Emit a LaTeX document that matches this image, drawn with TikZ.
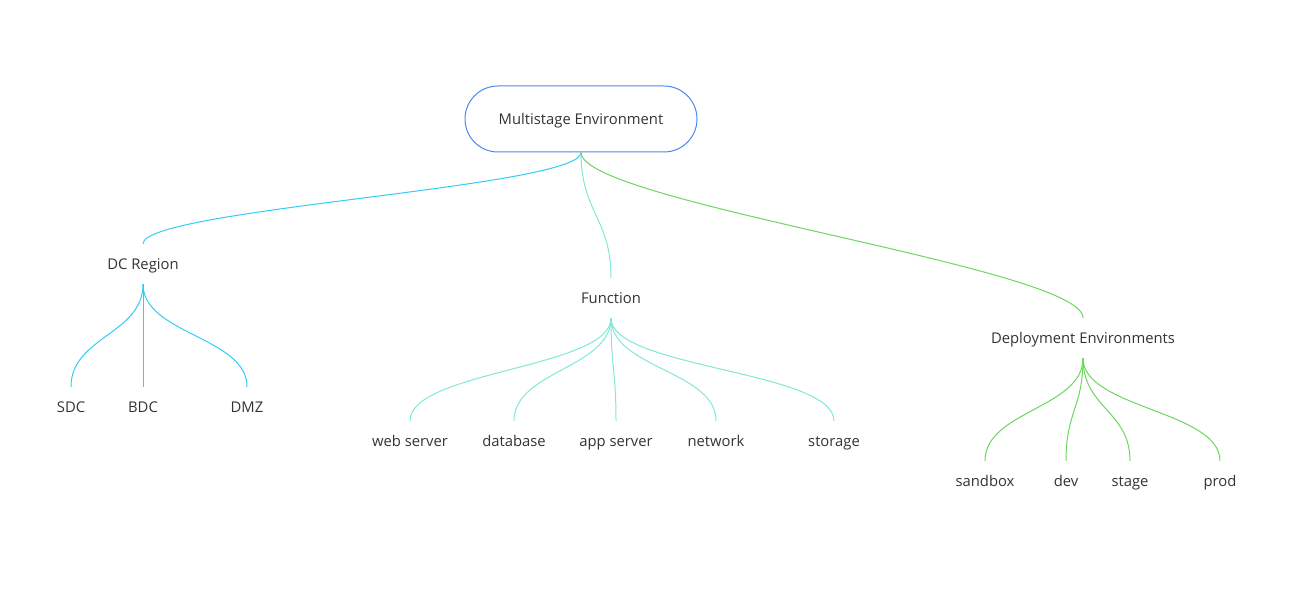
\documentclass[tikz,border=0pt]{standalone}
\usepackage{fontspec}
\setmainfont{Open Sans}
\definecolor{txt}{HTML}{333333}
\definecolor{rootblue}{HTML}{4A8AF0}
\definecolor{cyanl}{HTML}{33CCF5}
\definecolor{aqual}{HTML}{80E8D8}
\definecolor{greenl}{HTML}{6DD660}
\begin{document}
\begin{tikzpicture}[x=1pt,y=-1pt,
  lbl/.style={text=txt,inner sep=0pt,minimum height=40pt,text height=11pt,text depth=0pt,font=\fontsize{14.8}{17}\selectfont},
  rootbox/.style={draw=rootblue,line width=1pt,rounded corners=33pt,minimum width=232pt,minimum height=66pt,inner sep=0pt,text height=11pt,text depth=0pt,text=txt,font=\fontsize{14.8}{17}\selectfont},
  cl/.style={draw=cyanl,line width=1pt},
  al/.style={draw=aqual,line width=1pt},
  gl/.style={draw=greenl,line width=1pt}]
\useasboundingbox (0,0) rectangle (1312,607);
\node[rootbox] (root) at (581,119) {Multistage Environment};
\node[lbl] (dc) at (143,264) {DC Region};
\node[lbl] (fn) at (611,298) {Function};
\node[lbl] (de) at (1083,338) {Deployment Environments};
% DC children
\node[lbl] (sdc) at (71,407) {SDC};
\node[lbl] (bdc) at (143,407) {BDC};
\node[lbl] (dmz) at (247,407) {DMZ};
% Function children
\node[lbl] (web) at (410,441) {web server};
\node[lbl] (db) at (514,441) {database};
\node[lbl] (app) at (616,441) {app server};
\node[lbl] (net) at (716,441) {network};
\node[lbl] (sto) at (834,441) {storage};
% Deployment children
\node[lbl] (sb) at (985,481) {sandbox};
\node[lbl] (dev) at (1066,481) {dev};
\node[lbl] (stg) at (1130,481) {stage};
\node[lbl] (prod) at (1220,481) {prod};
% root connectors
\draw[cl] (root.south) .. controls +(0,35) and +(0,-35) .. (dc.north);
\draw[al] (root.south) .. controls +(0,60) and +(0,-60) .. (fn.north);
\draw[gl] (root.south) .. controls +(0,50) and +(0,-50) .. (de.north);
% DC
\draw[cl] (dc.south) .. controls +(0,50) and +(0,-50) .. (sdc.north);
\draw[cl] (dc.south) -- (bdc.north);
\draw[cl] (dc.south) .. controls +(0,50) and +(0,-50) .. (dmz.north);
% Function
\draw[al] (fn.south) .. controls +(0,50) and +(0,-50) .. (web.north);
\draw[al] (fn.south) .. controls +(0,50) and +(0,-50) .. (db.north);
\draw[al] (fn.south) .. controls +(0,50) and +(0,-50) .. (app.north);
\draw[al] (fn.south) .. controls +(0,50) and +(0,-50) .. (net.north);
\draw[al] (fn.south) .. controls +(0,50) and +(0,-50) .. (sto.north);
% Deployment
\draw[gl] (de.south) .. controls +(0,50) and +(0,-50) .. (sb.north);
\draw[gl] (de.south) .. controls +(0,50) and +(0,-50) .. (dev.north);
\draw[gl] (de.south) .. controls +(0,50) and +(0,-50) .. (stg.north);
\draw[gl] (de.south) .. controls +(0,50) and +(0,-50) .. (prod.north);
\end{tikzpicture}
\end{document}
